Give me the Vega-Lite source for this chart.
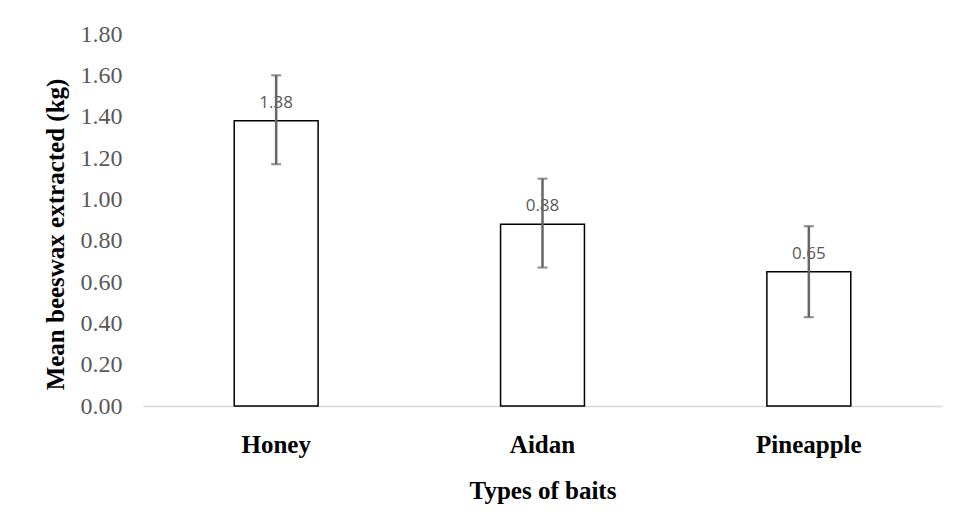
{
  "$schema": "https://vega.github.io/schema/vega-lite/v6.json",
  "autosize": "none",
  "width": 799,
  "height": 372,
  "padding": {"left": 143, "top": 34, "right": 13, "bottom": 121},
  "background": "white",
  "config": {"view": {"stroke": null}},
  "data": {
    "values": [
      {"bait": "Honey", "mean": 1.38, "lo": 1.17, "hi": 1.60},
      {"bait": "Aidan", "mean": 0.88, "lo": 0.67, "hi": 1.10},
      {"bait": "Pineapple", "mean": 0.65, "lo": 0.43, "hi": 0.87}
    ]
  },
  "encoding": {
    "x": {
      "field": "bait",
      "type": "nominal",
      "sort": null,
      "scale": {"paddingInner": 0.685, "paddingOuter": 0.3425},
      "axis": {
        "title": "Types of baits",
        "labelAngle": 0,
        "ticks": false,
        "domainColor": "#d9d9d9",
        "domainWidth": 1.3,
        "labelFont": "Liberation Serif",
        "labelFontWeight": "bold",
        "labelFontSize": 25,
        "labelColor": "black",
        "labelBaseline": "alphabetic",
        "labelPadding": 46,
        "titleFont": "Liberation Serif",
        "titleFontWeight": "bold",
        "titleFontSize": 25,
        "titleColor": "black",
        "titleBaseline": "alphabetic",
        "titleY": 92
      }
    }
  },
  "layer": [
    {
      "mark": {"type": "bar", "fill": "white", "stroke": "black", "strokeWidth": 1.5},
      "encoding": {
        "y": {
          "field": "mean",
          "type": "quantitative",
          "scale": {"domain": [0, 1.8], "nice": false},
          "axis": {
            "title": "Mean beeswax extracted (kg)",
            "values": [0, 0.2, 0.4, 0.6, 0.8, 1.0, 1.2, 1.4, 1.6, 1.8],
            "format": ".2f",
            "grid": false,
            "domain": false,
            "ticks": false,
            "labelFont": "Liberation Serif",
            "labelFontSize": 24,
            "labelColor": "#595959",
            "labelPadding": 21,
            "titleFont": "Liberation Serif",
            "titleFontWeight": "bold",
            "titleFontSize": 25,
            "titleColor": "black",
            "titleBaseline": "alphabetic",
            "titleAngle": 270,
            "titleAlign": "center",
            "titleX": -80,
            "titleY": 200
          }
        }
      }
    },
    {
      "mark": {"type": "text", "font": "Open Sans", "fontSize": 17, "color": "#595959", "baseline": "alphabetic", "dy": -13},
      "encoding": {
        "y": {"field": "mean", "type": "quantitative"},
        "text": {"field": "mean", "type": "quantitative", "format": ".2f"}
      }
    },
    {
      "mark": {"type": "rule", "color": "#666666", "strokeWidth": 2.5},
      "encoding": {
        "y": {"field": "lo", "type": "quantitative"},
        "y2": {"field": "hi"}
      }
    },
    {
      "mark": {"type": "tick", "color": "#666666", "size": 10, "thickness": 2.2},
      "encoding": {
        "y": {"field": "lo", "type": "quantitative"}
      }
    },
    {
      "mark": {"type": "tick", "color": "#666666", "size": 10, "thickness": 2.2},
      "encoding": {
        "y": {"field": "hi", "type": "quantitative"}
      }
    }
  ]
}
